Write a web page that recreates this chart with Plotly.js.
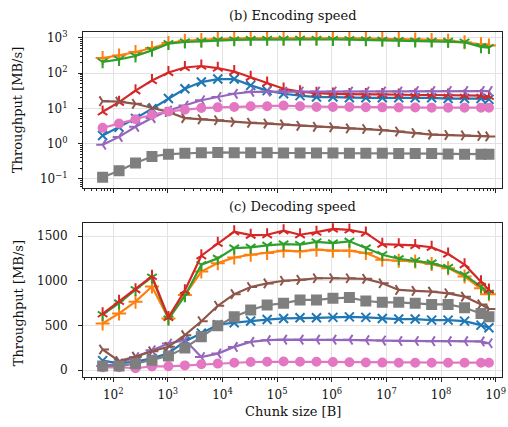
<!DOCTYPE html>
<html>
<head>
<meta charset="utf-8">
<script src="https://cdn.plot.ly/plotly-3.0.1.min.js"></script>
<style>html,body{margin:0;padding:0;background:#fff;}#chart{width:508px;height:427px;}</style>
</head>
<body>
<div id="chart"></div>
<script>
// Chunk sizes [B]
const chunkSizes = [64,128,256,512,1024,2048,4096,8192,16384,32768,65536,131072,262144,524288,1048576,2097152,4194304,8388608,16777216,33554432,67108864,134217728,268435456,536870912,750000000];

// Encoding speed [MB/s]
const encBlue   = [1.7,2.9,5.2,9.8,19,36,56,68,68,45,32,26,23,21,21,20,20,20,20,20,20,19,19,19,18];
const encOrange = [270,320,400,520,720,830,880,930,960,975,985,990,990,985,980,975,960,950,930,905,880,840,760,660,610];
const encGreen  = [209,245,307,444,690,770,800,855,880,900,910,920,920,910,905,895,880,860,840,820,810,800,760,560,530];
const encRed    = [8,15,32,62,105,145,160,140,112,77,53,36,30,27,26,25,25,25,24,24,24,24,23,23,22];
const encPurple = [0.93,1.55,3.0,5.3,8.7,12,17,21,26,29.5,30,30,30,30,30,30,30,30,30,31,31,31,31,31,31];
const encBrown  = [16,15.5,13.5,10.2,7.9,5.3,4.9,4.6,4.1,3.9,3.7,3.5,3.2,3.0,2.9,2.7,2.6,2.4,2.2,2.0,1.8,1.75,1.7,1.65,1.6];
const encPink   = [2.8,3.7,4.9,6.6,8.2,9.1,10.2,10.7,11,11.5,11.5,12,11.5,11,11,11,10.8,10.7,10.6,10.6,10.5,10.5,10.5,10.5,10.5];
const encGray   = [0.11,0.17,0.28,0.43,0.50,0.53,0.55,0.56,0.55,0.55,0.55,0.54,0.54,0.54,0.54,0.53,0.53,0.53,0.52,0.52,0.52,0.51,0.50,0.50,0.50];

// Decoding speed [MB/s]
const decBlue   = [105,75,94,131,188,319,413,507,530,550,565,578,585,585,590,595,590,578,571,571,559,559,548,503,473];
const decOrange = [521,634,766,935,578,841,1103,1197,1260,1291,1310,1336,1329,1348,1336,1336,1310,1235,1224,1216,1186,1141,1047,916,848];
const decGreen  = [620,750,900,1040,570,830,1180,1250,1366,1374,1396,1411,1404,1434,1422,1441,1366,1291,1246,1224,1197,1148,1066,935,859];
const decRed    = [630,770,900,1050,590,890,1280,1420,1550,1510,1515,1560,1515,1545,1580,1570,1535,1410,1405,1395,1375,1300,1180,990,897];
const decPurple = [45,71,146,221,296,338,146,184,259,315,334,340,340,340,340,340,334,330,325,325,323,323,323,320,300];
const decBrown  = [230,100,150,210,260,390,546,720,850,930,970,1000,1010,1028,1028,1028,1021,972,897,886,878,859,822,735,683];
const decPink   = [30,32,20,40,42,52,65,72,82,90,92,95,92,92,90,88,85,83,82,82,82,82,82,82,82];
const decGray   = [45,45,70,110,158,248,372,495,597,672,728,747,785,785,803,811,773,758,758,747,735,735,698,634,597];

// Tick values and labels
const xTickVals = [1e2,1e3,1e4,1e5,1e6,1e7,1e8,1e9];
const xTickText = ['10<sup>2</sup>','10<sup>3</sup>','10<sup>4</sup>','10<sup>5</sup>','10<sup>6</sup>','10<sup>7</sup>','10<sup>8</sup>','10<sup>9</sup>'];
const yEncTickVals = [0.1,1,10,100,1000];
const yEncTickText = ['10<sup>−1</sup>','10<sup>0</sup>','10<sup>1</sup>','10<sup>2</sup>','10<sup>3</sup>'];
const yDecTickVals = [0,500,1000,1500];
const yDecTickText = ['0','500','1000','1500'];

const styles = [
  {enc: encBlue,   dec: decBlue,   color: '#1f77b4', symbol: 'x-thin',     size: 9},
  {enc: encOrange, dec: decOrange, color: '#ff7f0e', symbol: 'cross-thin', size: 10},
  {enc: encGreen,  dec: decGreen,  color: '#2ca02c', symbol: 'y-down',     size: 8},
  {enc: encRed,    dec: decRed,    color: '#d62728', symbol: 'y-up',       size: 8},
  {enc: encPurple, dec: decPurple, color: '#9467bd', symbol: 'y-left',     size: 8},
  {enc: encBrown,  dec: decBrown,  color: '#8c564b', symbol: 'y-right',    size: 8},
  {enc: encPink,   dec: decPink,   color: '#e377c2', symbol: 'circle',     size: 8},
  {enc: encGray,   dec: decGray,   color: '#7f7f7f', symbol: 'square',     size: 9}
];

const traces = [];
styles.forEach(s => {
  const mk = {symbol: s.symbol, size: s.size, color: s.color, line: {color: s.color, width: 2}};
  traces.push({x: chunkSizes, y: s.enc, xaxis: 'x', yaxis: 'y', mode: 'lines+markers',
    line: {color: s.color, width: 2.2}, marker: mk, showlegend: false, hoverinfo: 'none'});
  traces.push({x: chunkSizes, y: s.dec, xaxis: 'x2', yaxis: 'y2', mode: 'lines+markers',
    line: {color: s.color, width: 2.2}, marker: mk, showlegend: false, hoverinfo: 'none'});
});

const font = {family: 'DejaVu Serif, serif', size: 12, color: '#111'};
const commonX = {
  type: 'log', range: [Math.log10(28), Math.log10(1.3e9)],
  tickmode: 'array', tickvals: xTickVals, ticktext: xTickText,
  ticks: 'outside', ticklen: 4, tickcolor: '#222',
  showline: true, linecolor: '#222', linewidth: 1, mirror: true,
  showgrid: true, gridcolor: '#e3e3e3', gridwidth: 1, zeroline: false,
  minor: {ticks: 'outside', ticklen: 2, tickcolor: '#222', dtick: 'D1', showgrid: false}
};

const layout = {
  width: 508, height: 427,
  margin: {l: 83, r: 6, t: 32, b: 50},
  paper_bgcolor: '#fff', plot_bgcolor: '#fff',
  font: font, showlegend: false,
  xaxis: Object.assign({}, commonX, {domain: [0, 1], anchor: 'y', showticklabels: false, matches: 'x2'}),
  xaxis2: Object.assign({}, commonX, {domain: [0, 1], anchor: 'y2', showticklabels: true, ticklabelstandoff: 3}),
  yaxis: {
    type: 'log', domain: [0.548, 1], anchor: 'x',
    range: [-1.26, 3.17], tickmode: 'array', tickvals: yEncTickVals, ticktext: yEncTickText,
    ticks: 'outside', ticklen: 4, tickcolor: '#222', ticklabelstandoff: 8,
    showline: true, linecolor: '#222', linewidth: 1, mirror: true,
    showgrid: true, gridcolor: '#e3e3e3', zeroline: false,
    minor: {ticks: 'outside', ticklen: 2, tickcolor: '#222', dtick: 'D1', showgrid: false}
  },
  yaxis2: {
    domain: [0, 0.446], anchor: 'x2',
    range: [-78, 1645], tickmode: 'array', tickvals: yDecTickVals, ticktext: yDecTickText,
    ticks: 'outside', ticklen: 4, tickcolor: '#222', ticklabelstandoff: 8,
    showline: true, linecolor: '#222', linewidth: 1, mirror: true,
    showgrid: true, gridcolor: '#e3e3e3', zeroline: false
  },
  annotations: [
    {text: '(b) Encoding speed', xref: 'paper', yref: 'paper', x: 0.5, y: 1.049, showarrow: false, xanchor: 'center', yanchor: 'middle', font: {family: 'DejaVu Serif, serif', size: 13, color: '#111'}},
    {text: '(c) Decoding speed', xref: 'paper', yref: 'paper', x: 0.5, y: 0.493, showarrow: false, xanchor: 'center', yanchor: 'middle', font: {family: 'DejaVu Serif, serif', size: 13, color: '#111'}},
    {text: 'Throughput [MB/s]', xref: 'paper', yref: 'paper', x: -0.155, y: 0.774, showarrow: false, textangle: -90, xanchor: 'center', yanchor: 'middle', font: {family: 'DejaVu Serif, serif', size: 13, color: '#111'}},
    {text: 'Throughput [MB/s]', xref: 'paper', yref: 'paper', x: -0.155, y: 0.214, showarrow: false, textangle: -90, xanchor: 'center', yanchor: 'middle', font: {family: 'DejaVu Serif, serif', size: 13, color: '#111'}},
    {text: 'Chunk size [B]', xref: 'paper', yref: 'paper', x: 0.5, y: -0.101, showarrow: false, xanchor: 'center', yanchor: 'middle', font: {family: 'DejaVu Serif, serif', size: 13, color: '#111'}}
  ]
};

Plotly.newPlot('chart', traces, layout, {staticPlot: true, displayModeBar: false});
</script>
</body>
</html>
